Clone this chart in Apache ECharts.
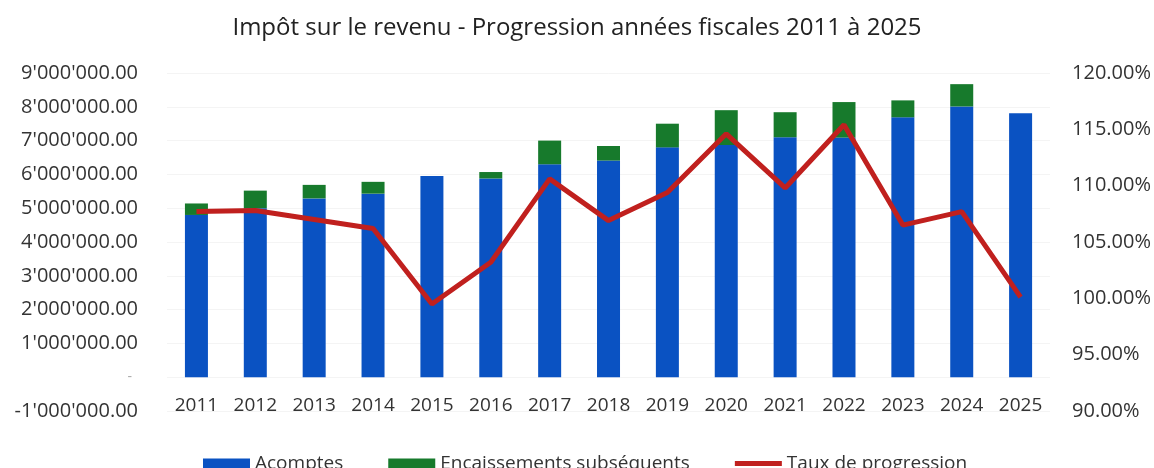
<!DOCTYPE html>
<html lang="fr">
<head>
  <meta charset="UTF-8">
  <title>Impôt sur le revenu</title>
  <script src="https://cdn.jsdelivr.net/npm/echarts@6/dist/echarts.min.js"></script>
  <style>
    * { margin: 0; padding: 0; }
    body { background: #fff; }
    #chart { width: 1154px; height: 468px; }
  </style>
</head>
<body>
  <div id="chart"></div>
  <script>
    // données
    const years = ['2011', '2012', '2013', '2014', '2015', '2016', '2017', '2018',
      '2019', '2020', '2021', '2022', '2023', '2024', '2025'];
    const acomptes = [4800000, 5000000, 5290000, 5430000, 5950000, 5880000, 6300000, 6410000,
      6800000, 6870000, 7100000, 7090000, 7690000, 8010000, 7810000];
    const encaissements = [340000, 520000, 400000, 350000, 0, 190000, 700000, 430000,
      700000, 1030000, 740000, 1050000, 500000, 660000, 0];
    const taux = [107.7, 107.8, 107.0, 106.2, 99.5, 103.2, 110.6, 106.9,
      109.4, 114.6, 109.8, 115.4, 106.5, 107.7, 100.1];

    const font = '"Open Sans", sans-serif';

    function fmtCHF(v) {
      if (v === 0) return '{z|-}';
      const neg = v < 0;
      let s = Math.abs(v).toFixed(2);
      let [ent, dec] = s.split('.');
      ent = ent.replace(/\B(?=(\d{3})+(?!\d))/g, "'");
      return (neg ? '-' : '') + ent + '.' + dec;
    }

    const chart = echarts.init(document.getElementById('chart'));
    const option = {
      animation: false,
      title: {
        text: 'Impôt sur le revenu - Progression années fiscales 2011 à 2025',
        left: 'center',
        top: 11,
        textStyle: { fontFamily: font, fontSize: 24, fontWeight: 'normal', color: '#222' }
      },
      legend: {
        left: 198,
        top: 449,
        itemWidth: 47,
        itemHeight: 10,
        itemGap: 45,
        symbolKeepAspect: true,
        textStyle: { fontFamily: font, fontSize: 19, color: '#333' },
        data: [
          { name: 'Acomptes', icon: 'rect' },
          { name: 'Encaissements subséquents', icon: 'rect' },
          { name: 'Taux de progression', icon: 'path://M0 0H47V5H0Z' }
        ]
      },
      grid: { left: 167, right: 101, top: 73, bottom: 57 },
      xAxis: {
        type: 'category',
        data: years,
        axisLine: { show: false },
        axisTick: { show: false },
        axisLabel: { margin: -15, fontFamily: font, fontSize: 19, color: '#333' }
      },
      yAxis: [
        {
          type: 'value',
          min: -1000000,
          max: 9000000,
          interval: 1000000,
          axisLine: { show: false },
          axisTick: { show: false },
          splitLine: { lineStyle: { color: '#f4f4f4' } },
          axisLabel: {
            margin: 29, fontFamily: font, fontSize: 20, color: '#333',
            formatter: fmtCHF,
            rich: { z: { color: '#aaa', fontSize: 14, padding: [0, 6, 0, 0] } }
          }
        },
        {
          type: 'value',
          min: 90,
          max: 120,
          interval: 5,
          axisLine: { show: false },
          axisTick: { show: false },
          splitLine: { show: false },
          axisLabel: {
            margin: 22, fontFamily: font, fontSize: 20, color: '#333',
            formatter: v => v.toFixed(2) + '%'
          }
        }
      ],
      series: [
        {
          name: 'Acomptes',
          type: 'bar',
          stack: 'total',
          barWidth: 23,
          itemStyle: { color: '#0a52c2' },
          data: acomptes
        },
        {
          name: 'Encaissements subséquents',
          type: 'bar',
          stack: 'total',
          barWidth: 23,
          itemStyle: { color: '#177a2c' },
          data: encaissements
        },
        {
          name: 'Taux de progression',
          type: 'line',
          yAxisIndex: 1,
          symbol: 'none',
          lineStyle: { color: '#c0201e', width: 5 },
          itemStyle: { color: '#c0201e' },
          data: taux
        }
      ]
    };
    chart.setOption(option);
  </script>
</body>
</html>
